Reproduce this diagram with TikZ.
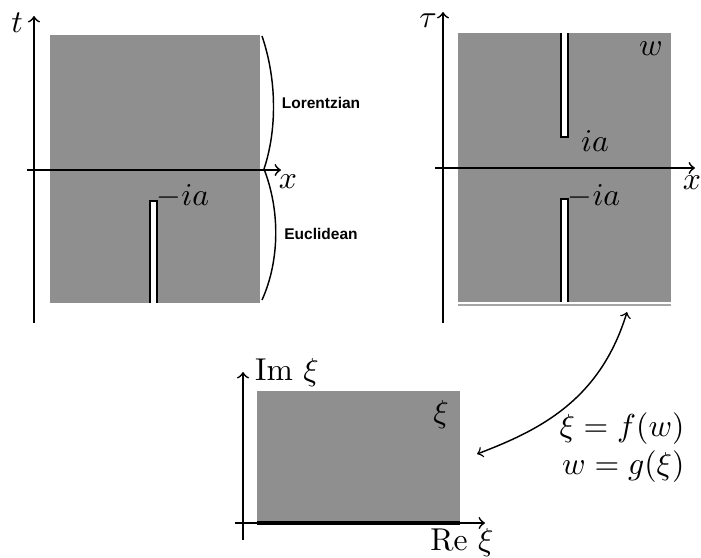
\documentclass[tikz,border=0pt]{standalone}
\usepackage{fontspec}
\newfontfamily\labelsans{Liberation Sans}
\definecolor{regiongray}{RGB}{143,143,143}
\definecolor{edgegray}{RGB}{165,165,165}
\tikzset{
  region/.style={fill=regiongray, draw=none},
  axis/.style={line width=0.6pt, ->, >=to},
  slit/.style={fill=white, draw=black, line width=0.6pt},
  bracearc/.style={line width=0.5pt},
  lbl/.style={inner sep=0pt, font=\fontsize{10.9}{13}\selectfont},
  sidelbl/.style={font=\labelsans\bfseries\fontsize{5.35}{7}\selectfont, inner sep=0pt},
}
\begin{document}
\begin{tikzpicture}[x=0.345pt,y=-0.345pt]
\useasboundingbox (0,0) rectangle (701,557);
% ---------- left panel (t, x) ----------
\fill[region] (50,35) rectangle (260,303);
\draw[slit] (150,303) -- (150,201) -- (157,201) -- (157,303);
\coordinate (tA0) at (34,323); \coordinate (tA1) at (34,16);
\coordinate (xA0) at (27,170); \coordinate (xA1) at (281,170);
\draw[axis] (tA0) -- (tA1);
\draw[axis] (xA0) -- (xA1);
\node[lbl] (tlab) at (17,23) {$t$};
\node[lbl] (xlabL) at (288,182) {$x$};
\node[lbl] (mialeft) at (183,196) {$-ia$};
\coordinate (brTop) at (262,36); \coordinate (brMid) at (264,169); \coordinate (brBot) at (262,300);
\draw[bracearc] (brTop) .. controls (277,80) and (277,130) .. (brMid);
\draw[bracearc] (brMid) .. controls (280,210) and (280,260) .. (brBot);
\node[sidelbl] (lor) at (321,103) {Lorentzian};
\node[sidelbl] (euc) at (321,234) {Euclidean};
% ---------- right panel (tau, x) ----------
\fill[region] (458,33) rectangle (671,302);
\draw[edgegray, line width=0.5pt] (458,305) -- (671,305);
\draw[slit] (561,33) -- (561,137) -- (568,137) -- (568,33);
\draw[slit] (561,302) -- (561,199) -- (568,199) -- (568,302);
\coordinate (tauA0) at (443,323); \coordinate (tauA1) at (443,12);
\coordinate (xB0) at (435,168); \coordinate (xB1) at (695,168);
\draw[axis] (tauA0) -- (tauA1);
\draw[axis] (xB0) -- (xB1);
\node[lbl] (taulab) at (428,21) {$\tau$};
\node[lbl] (xlabR) at (692,183) {$x$};
\node[lbl] (wlab) at (651,49) {$w$};
\node[lbl] (ialab) at (595,141) {$ia$};
\node[lbl] (miaright) at (594,196) {$-ia$};
% ---------- bottom panel (xi) ----------
\fill[region] (257,391) rectangle (460,523);
\draw[line width=1.2pt] (257,523) -- (460,523);
\coordinate (imA0) at (243,540); \coordinate (imA1) at (243,372);
\coordinate (reA0) at (235,523); \coordinate (reA1) at (485,523);
\draw[axis] (imA0) -- (imA1);
\draw[axis] (reA0) -- (reA1);
\node[lbl] (imlab) at (287,373) {$\mathrm{Im}\ \xi$};
\node[lbl] (relab) at (462,543) {$\mathrm{Re}\ \xi$};
\node[lbl] (xilab) at (441,415) {$\xi$};
% ---------- map ----------
\coordinate (wEnd) at (627,312);
\coordinate (xiEnd) at (477,454);
\draw[<->, >=to, line width=0.5pt] (wEnd) .. controls (600,400) and (540,430) .. (xiEnd);
\node[lbl, anchor=east] (fmap) at (685,429) {$\xi = f(w)$};
\node[lbl, anchor=east] (gmap) at (685,467) {$w = g(\xi)$};
\end{tikzpicture}
\end{document}
